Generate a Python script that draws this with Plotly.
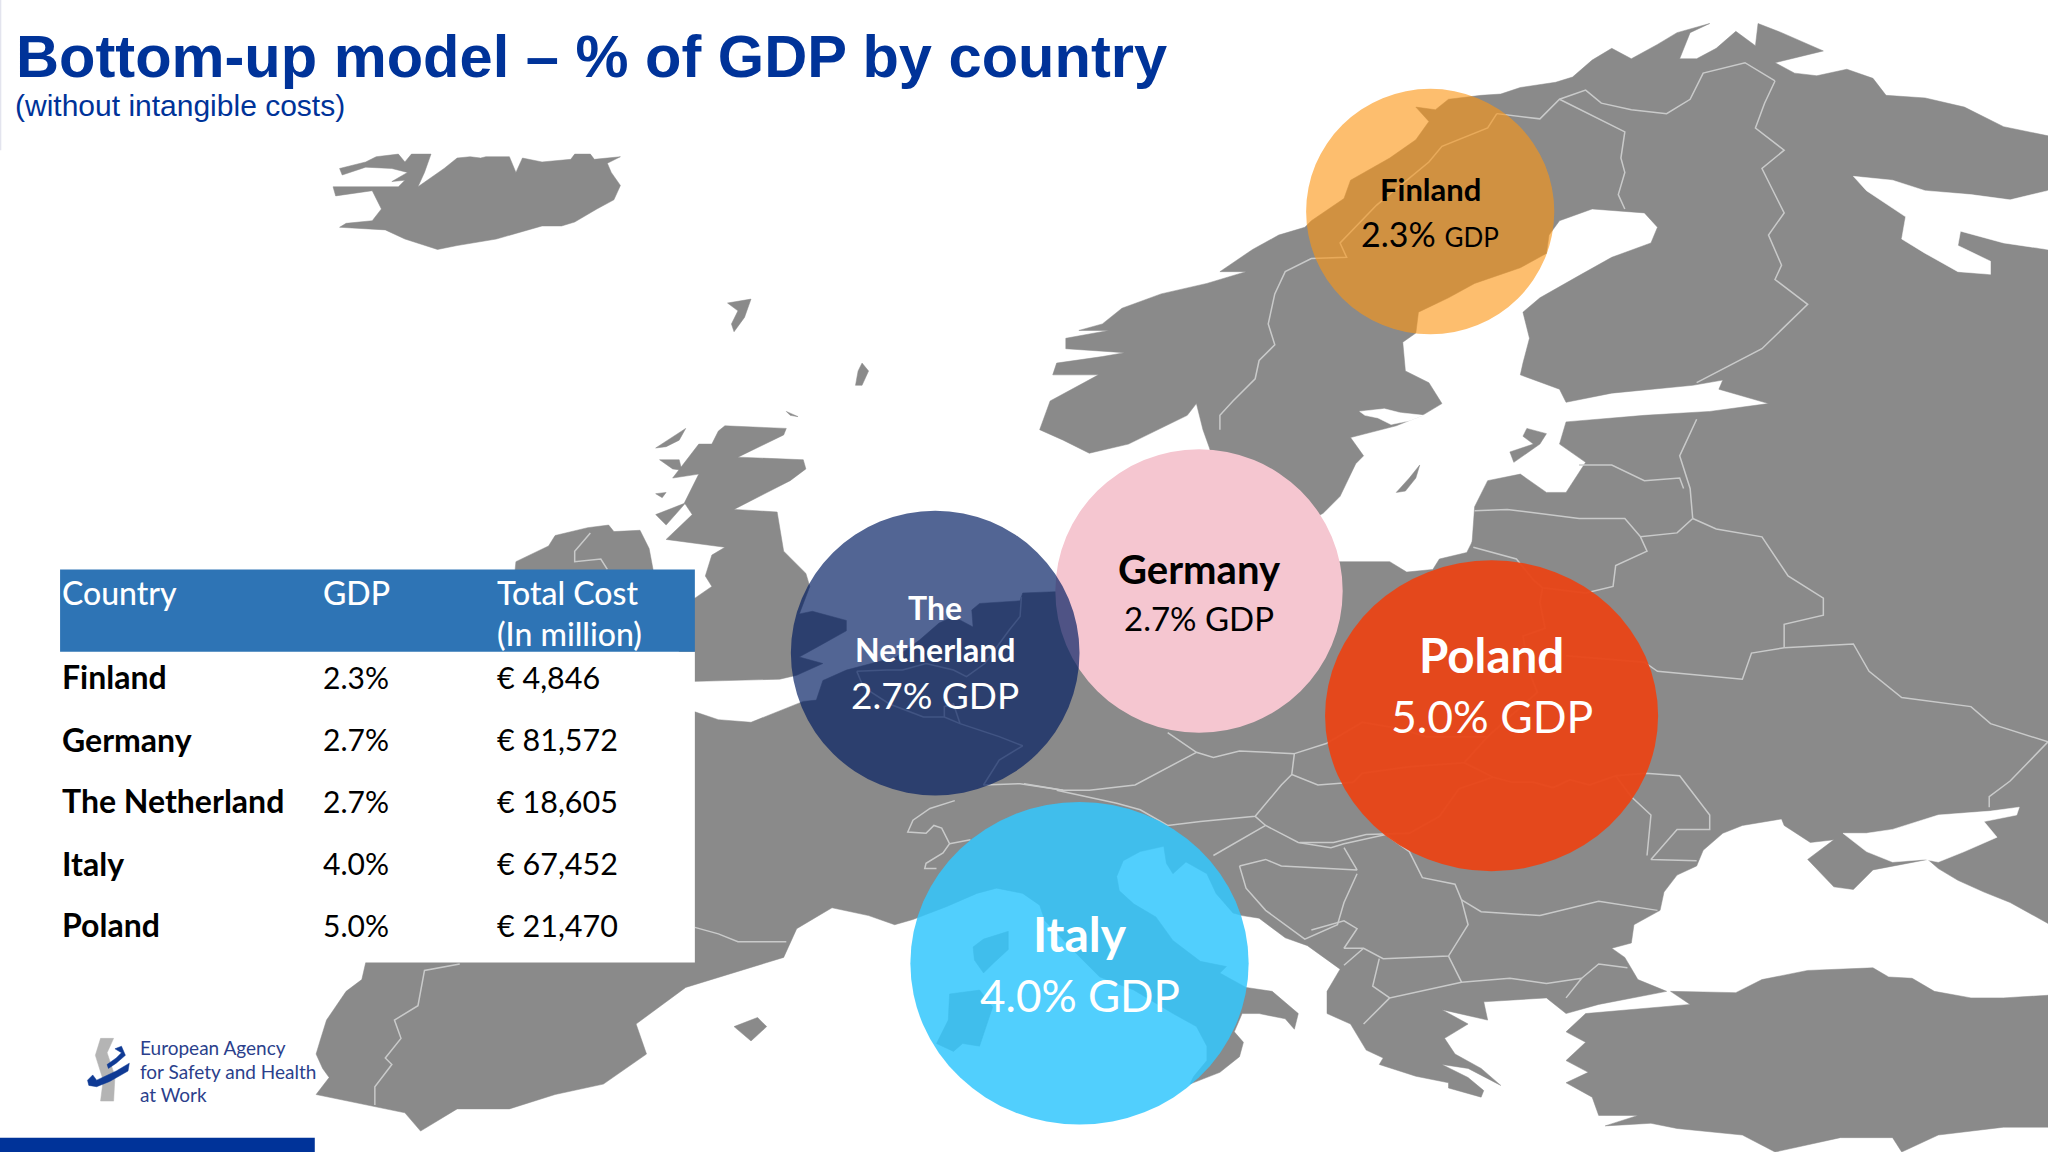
import plotly.graph_objects as go

# ---- chart values ----
countries = ["Finland", "Germany", "The Netherland", "Italy", "Poland"]
gdp_share = [2.3, 2.7, 2.7, 4.0, 5.0]
total_cost = ["€ 4,846", "€ 81,572", "€ 18,605", "€ 67,452", "€ 21,470"]
table_header = ["Country", "GDP", "Total Cost<br>(In million)"]
title_text = "Bottom-up model – % of GDP by country"
subtitle_text = "(without intangible costs)"
logo_lines = ["European Agency", "for Safety and Health", "at Work"]

# ---- map outlines (1568 x 882 image units) ----
iceland = [(260,129),(280,124),(288,120),(305,118),(310,124),(315,118),(330,118),(325,132),(320,143),(340,129),
           (350,121),(360,120),(368,121),(372,120),(390,120),(395,132),(400,121),(415,124),(437,122),(440,118),
           (452,118),(455,122),(475,120),(465,125),(468,132),(475,142),(470,153),(457,160),(440,170),(430,173),
           (415,173),(390,180),(380,183),(350,188),(335,191),(310,183),(295,176),(260,174),(265,171),(285,169),
           (292,160),(285,146),(257,150),(255,143),(305,143),(310,138),(300,139),(312,132),(300,129),(280,128),(262,134)]
britain = [(555,326),(602,328),(600,333),(565,350),(615,352),(617,359),(605,368),(582,380),(562,390),(595,392),
           (600,422),(617,439),(620,449),(612,470),(622,468),(648,475),(648,483),(630,493),(612,503),(630,508),
           (610,517),(597,520),(533,522),(520,522),(520,458),(532,458),(545,449),(540,441),(545,425),(555,419),
           (510,413),(530,394),(524,385),(535,363),(515,366),(535,340),(545,340),(550,330)]
ireland = [(395,430),(420,418),(425,410),(450,404),(466,402),(470,407),(490,406),(497,420),(500,436),(500,480),(390,480)]
mainland = [(280,737),(277,750),(265,759),(250,781),(245,797),(242,807),(247,818),(252,825),(242,838),(280,846),
            (310,852),(322,866),(350,849),(390,849),(425,838),(462,830),(495,807),(487,784),(525,756),(600,733),
            (610,711),(637,695),(665,701),(685,708),(699,704),(725,694),(748,684),(763,680),(783,684),(796,693),
            (800,705),(824,730),(842,748),(868,758),(898,776),(916,786),(924,801),(924,812),(914,824),(911,830),
            (934,821),(949,809),(952,798),(945,790),(951,776),(964,776),(984,780),(991,788),(994,776),(974,759),
            (954,756),(934,745),(939,740),(919,736),(898,720),(885,702),(868,692),(857,682),(855,671),(860,659),
            (873,652),(891,648),(893,661),(898,669),(908,660),(924,669),(931,684),(944,699),(951,701),(964,703),
            (984,718),(1001,724),(1026,742),(1016,759),(1016,776),(1034,784),(1046,804),(1059,810),(1056,815),
            (1084,824),(1109,829),(1109,833),(1134,840),(1136,835),(1124,825),(1104,815),(1124,818),(1149,831),
            (1134,818),(1114,807),(1106,795),(1124,784),(1104,773),(1139,781),(1136,767),(1184,764),(1199,776),
            (1224,769),(1259,762),(1276,759),(1254,750),(1244,733),(1234,726),(1249,722),(1251,708),(1271,697),
            (1274,683),(1284,670),(1299,663),(1304,651),(1319,638),(1334,632),(1364,627),(1366,632),(1386,645),
            (1404,643),(1384,658),(1404,679),(1419,681),(1434,666),(1476,658),(1484,665),(1499,674),(1519,683),
            (1539,691),(1568,707),(1568,104),(1534,97),(1504,82),(1474,75),(1444,73),(1434,60),(1414,53),(1391,58),
            (1374,56),(1359,48),(1396,39),(1364,25),(1346,18),(1344,35),(1329,24),(1314,37),(1299,45),(1286,45),
            (1294,25),(1309,18),(1284,25),(1269,34),(1249,45),(1234,37),(1219,46),(1204,59),(1191,63),(1164,67),
            (1149,72),(1134,73),(1109,76),(1099,84),(1084,82),(1094,93),(1084,107),(1064,121),(1034,138),(1029,152),
            (1004,169),(999,174),(979,180),(959,191),(934,208),(954,208),(924,217),(889,225),(859,236),(844,248),
            (826,253),(849,253),(816,259),(816,267),(861,270),(844,273),(809,278),(806,287),(841,287),(804,307),
            (796,329),(814,337),(834,347),(864,340),(909,318),(916,309),(921,329),(926,343),(940,395),(1000,400),
            (1013,393),(1026,380),(1038,355),(1044,349),(1034,335),(1069,326),(1089,318),(1104,309),(1094,293),
            (1076,284),(1074,262),(1084,255),(1086,239),(1109,228),(1129,217),(1164,205),(1184,194),(1186,180),
            (1194,169),(1219,160),(1259,163),(1269,174),(1264,186),(1234,197),(1209,211),(1179,228),(1166,239),
            (1171,259),(1166,278),(1164,287),(1194,298),(1199,308),(1234,301),(1296,295),(1319,291),(1316,298),
            (1354,309),(1309,315),(1259,318),(1199,323),(1194,340),(1214,354),(1199,377),(1184,377),(1164,363),
            (1139,368),(1129,388),(1127,416),(1128,413),(1123,423),(1102,428),(1097,436),(1077,438),(1064,430),
            (1028,430),(950,430),(900,440),(808,453),(783,454),(781,460),(750,462),(744,467),(745,480),(730,472),
            (719,477),(704,490),(686,503),(648,513),(630,521),(625,536),(615,537),(575,553),(550,551),(532,545),
            (500,545),(500,700),(280,720)]
turkey = [(1279,759),(1329,760),(1349,750),(1384,743),(1434,741),(1446,748),(1464,749),(1481,759),(1509,764),
          (1534,764),(1568,762),(1568,863),(1534,863),(1484,869),(1456,882),(1449,871),(1409,871),(1359,882),
          (1334,869),(1284,864),(1264,860),(1229,862),(1254,854),(1224,854),(1219,840),(1199,829),(1216,821),
          (1199,812),(1214,798),(1199,790),(1214,776),(1276,771),(1294,769)]
small_islands = [
    [(1087,356),(1079,366),(1069,377),(1076,376),(1084,366)],
    [(1169,328),(1184,332),(1179,340),(1159,354),(1156,346),(1174,340),(1166,334)],
    [(562,786),(580,779),(587,786),(575,797)],
    [(727,761),(750,758),(760,771),(750,801),(737,799),(730,805),(717,799),(726,781)],
    [(745,725),(753,719),(772,713),(772,727),(760,738),(753,745),(746,735)],
    [(502,343),(525,328),(520,337),(510,342)],
    [(505,352),(520,352),(522,360),(515,359)],
    [(502,394),(525,385),(510,402)],
    [(502,378),(510,377),(507,381)],
    [(602,315),(611,319),(605,318)],
    [(660,278),(665,284),(660,295),(655,295),(657,284)],
    [(557,232),(575,229),(570,243),(562,254),(560,248),(565,238)],
]
inland_seas = [
    [(1411,638),(1429,638),(1449,635),(1484,624),(1524,621),(1546,618),(1544,624),(1519,629),(1529,641),(1504,652),
     (1484,660),(1474,658),(1449,660),(1429,652)],
    [(1419,135),(1449,138),(1474,146),(1509,149),(1539,153),(1568,146),(1568,191),(1534,186),(1501,177),(1499,188),
     (1524,200),(1524,210),(1499,208),(1474,194),(1456,183),(1459,166),(1429,146)],
    [(1041,315),(1060,313),(1072,316),(1090,318),(1080,322),(1065,325),(1055,320),(1045,318)],
]
borders = [
    [(1146,87),(1139,98),(1104,112),(1094,124),(1054,157),(1026,186),(1031,197),(1004,198),(984,208),(976,225),
     (971,248),(976,264),(964,276),(961,290),(944,307),(934,318),(934,329)],
    [(1146,87),(1179,91),(1194,76),(1214,69),(1226,79),(1249,84),(1276,87),(1294,76),(1304,56),(1336,48),(1359,62)],
    [(1194,76),(1244,101),(1241,121),(1244,132),(1239,149),(1244,160)],
    [(1359,62),(1351,79),(1344,98),(1366,115),(1349,129),(1366,163),(1354,180),(1364,203),(1359,214),(1384,233),
     (1349,267),(1299,293)],
    [(1299,321),(1286,349),(1294,374),(1296,397)],
    [(1209,356),(1234,356),(1259,368),(1286,366),(1289,374)],
    [(1129,391),(1154,390),(1209,397),(1244,397),(1256,411),(1284,408),(1296,397)],
    [(1256,411),(1261,422),(1237,433),(1235,449),(1214,454)],
    [(1296,397),(1314,405),(1349,411),(1369,441),(1396,458),(1396,471),(1366,478),(1366,496)],
    [(1366,496),(1341,500),(1334,520),(1304,517),(1269,514),(1259,507),(1199,502)],
    [(1366,496),(1419,493),(1431,514),(1456,534),(1509,541),(1524,554),(1568,568)],
    [(1568,568),(1539,598),(1523,610),(1523,618)],
    [(1128,419),(1161,428),(1174,444),(1181,450),(1214,454)],
    [(1181,450),(1179,461),(1183,481),(1166,487),(1171,515),(1177,530),(1139,564),(1121,584)],
    [(1016,569),(1043,553),(1072,558),(1092,564),(1120,564),(1139,564)],
    [(1121,584),(1143,595),(1158,599),(1174,599),(1189,603),(1202,597),(1217,601),(1237,594),(1260,592),(1286,594),
     (1309,624),(1309,635),(1284,635),(1264,658),(1299,659)],
    [(1237,594),(1249,610),(1264,624),(1261,655)],
    [(1036,599),(1043,592),(1079,587),(1121,584)],
    [(1143,595),(1117,604),(1102,625),(1079,638),(1046,639),(1021,645),(995,645)],
    [(894,561),(916,576),(929,580),(949,575),(991,577),(989,593),(1009,601),(1036,599)],
    [(991,577),(1016,569)],
    [(916,576),(901,584),(869,601),(834,605),(814,605),(784,600)],
    [(989,593),(981,601),(961,625),(919,629),(894,632),(873,620),(855,615),(809,605)],
    [(961,625),(969,632),(994,645),(1019,649),(1029,646),(1061,639),(1079,652),(1089,672),(1114,677),(1119,689),
     (1124,708),(1109,732),(1059,734),(1044,726),(1029,726),(1039,711),(1029,705),(1004,712)],
    [(969,632),(929,655)],
    [(949,663),(969,658),(981,663),(1039,666),(1029,649)],
    [(949,663),(954,680),(969,697),(999,719),(1024,708),(1029,691),(1039,669)],
    [(1119,689),(1134,698),(1179,701),(1224,690),(1269,697)],
    [(1109,732),(1119,752),(1156,749),(1184,753),(1211,749),(1199,764)],
    [(1211,749),(1224,738),(1246,741)],
    [(1119,752),(1064,764),(1051,755),(1056,734)],
    [(1044,726),(1029,739)],
    [(1064,764),(1044,784)],
    [(352,738),(325,743),(320,770),(302,781),(307,795),(295,810),(300,815),(287,832),(287,846)],
    [(532,710),(550,715),(565,721),(602,721)],
    [(731,613),(712,619),(699,628),(695,637),(709,638),(715,632),(721,634),(727,646),(722,653),(709,661),(708,665),(717,665)],
    [(727,646),(743,643)],
    [(782,457),(781,472),(773,482),(754,508),(740,518),(730,513),(709,508),(691,513),(679,513),(656,514)],
    [(656,514),(661,526),(681,539),(707,549),(723,549),(735,554),(765,564),(783,571),(765,582),(753,601),(781,600),(814,605)],
    [(723,549),(723,541),(730,539),(735,554)],
    [(452,408),(440,422),(440,430),(460,428),(465,436)],
]
logo_ribbon = [(77,795),(87,795),(82,806),(88,824),(87,843),(77,843),(79,827),(73,808)]
logo_swoosh = [(67,827),(71,823),(74,827),(89,820),(99,814),(98,820),(84,828),(74,832),(68,831)]
logo_swoosh_top = [(82,815),(89,810),(93,806),(88,803),(93,801),(96,808),(89,814),(83,818)]

BLUE = "#003399"
LAND = "#8A8A8A"
W, H = 1568, 882  # picture units used by the axes


def polygon(points, color, line_color=None):
    return go.Scatter(
        x=[p[0] for p in points] + [points[0][0]],
        y=[p[1] for p in points] + [points[0][1]],
        mode="lines",
        fill="toself",
        fillcolor=color,
        line=dict(color=line_color or color, width=0.5),
        hoverinfo="skip",
        showlegend=False,
    )


fig = go.Figure()

for shape_pts in [iceland, britain, ireland, mainland, turkey] + small_islands:
    fig.add_trace(polygon(shape_pts, LAND))
for sea in inland_seas:
    fig.add_trace(polygon(sea, "#FFFFFF"))

# country borders as one broken line
bx, by = [], []
for b in borders:
    bx += [p[0] for p in b] + [None]
    by += [p[1] for p in b] + [None]
fig.add_trace(go.Scatter(x=bx, y=by, mode="lines", line=dict(color="#C9CACA", width=1.5),
                         hoverinfo="skip", showlegend=False))

for pts, col in [(logo_ribbon, "#B4B4B4"), (logo_swoosh, "#0F3A94"), (logo_swoosh_top, "#0F3A94")]:
    fig.add_trace(polygon(pts, col))

# bubbles: centre x, centre y, half width, half height, fill, text colour, name size, value size
bubbles = {
    "Germany": (918, 452.5, 110, 108.5, "#F5C6D0", "#000000", 40, 33),
    "The Netherland": (716, 500, 110.5, 109, "rgba(0,28,98,0.68)", "#FFFFFF", 32, 37),
    "Finland": (1095, 162, 95, 94, "rgba(251,150,21,0.62)", "#000000", 31, 34),
    "Poland": (1142, 548, 127.5, 119, "rgba(232,70,24,0.96)", "#FFFFFF", 47.5, 44.5),
    "Italy": (826.5, 737.5, 129.5, 123.5, "rgba(50,199,253,0.85)", "#FFFFFF", 48, 44),
}
for name, b in bubbles.items():
    fig.add_shape(type="circle", xref="x", yref="y", x0=b[0]-b[2], x1=b[0]+b[2], y0=b[1]-b[3], y1=b[1]+b[3],
                  fillcolor=b[4], line_width=0, layer="above")

# table background, above the map
fig.add_shape(type="rect", xref="x", yref="y", x0=46, x1=532, y0=499, y1=737,
              fillcolor="#FFFFFF", line_width=0, layer="above")
fig.add_shape(type="rect", xref="x", yref="y", x0=46, x1=532, y0=436, y1=499,
              fillcolor="#2E74B5", line_width=0, layer="above")
# page furniture
fig.add_shape(type="rect", xref="x", yref="y", x0=0, x1=241, y0=871, y1=882,
              fillcolor=BLUE, line_width=0, layer="above")
fig.add_shape(type="rect", xref="x", yref="y", x0=0, x1=1, y0=0, y1=115,
              fillcolor="#E3E4EE", line_width=0, layer="above")


def label(x, y, text, size, color, family="Lato", anchor="center", bold=False):
    fig.add_annotation(x=x, y=y, xref="x", yref="y", text=f"<b>{text}</b>" if bold else text,
                       showarrow=False, xanchor=anchor, yanchor="middle", align="left" if anchor == "left" else "center",
                       font=dict(family=family, size=size, color=color))


label(11, 43, title_text, 59.6, BLUE, family="Liberation Sans", anchor="left", bold=True)
label(10, 81, subtitle_text, 30, BLUE, family="Liberation Sans", anchor="left")

# table text
col_x = [46, 246, 379]
header_font = "Lato Medium, Lato"
label(col_x[0], 454, table_header[0], 32, "#FFFFFF", family=header_font, anchor="left")
label(col_x[1], 454, table_header[1], 32, "#FFFFFF", family=header_font, anchor="left")
for i, line in enumerate(table_header[2].split("<br>")):
    label(col_x[2], 454 + i * 31, line, 32, "#FFFFFF", family=header_font, anchor="left")
row_y = [518, 566, 613, 661, 708]
for c, g, t, y in zip(countries, gdp_share, total_cost, row_y):
    label(col_x[0], y, c, 32, "#000000", anchor="left", bold=True)
    label(col_x[1], y, f"{g:.1f}%", 30, "#000000", anchor="left")
    label(col_x[2], y, t, 30.5, "#000000", anchor="left")

# bubble text
for c, g in zip(countries, gdp_share):
    b = bubbles[c]
    value = f"{g:.1f}% GDP"
    if c == "The Netherland":
        label(b[0], 465, "The", b[6], b[5], bold=True)
        label(b[0], 497, "Netherland", b[6], b[5], bold=True)
        label(b[0], 532, value, b[7], b[5])
    elif c == "Finland":
        label(b[0], 145, c, b[6], b[5], bold=True)
        label(b[0], 179, f"{g:.1f}% <span style='font-size:26px'>GDP</span>", b[7], b[5])
    else:
        gap = {"Germany": (436, 473), "Poland": (501, 548), "Italy": (715, 762)}[c]
        label(b[0], gap[0], c, b[6], b[5], bold=True)
        label(b[0], gap[1], value, b[7], b[5])

for line, y in zip(logo_lines, [802, 820, 838]):
    label(106, y, line, 19, "#2B3F8C", anchor="left")

fig.update_xaxes(range=[0, W], visible=False, fixedrange=True)
fig.update_yaxes(range=[H, 0], visible=False, fixedrange=True)
fig.update_layout(width=2048, height=1152, margin=dict(l=0, r=0, t=0, b=0),
                  paper_bgcolor="#FFFFFF", plot_bgcolor="#FFFFFF", showlegend=False)

# the page's default body margin would push the chart off the window
fig.write_html("out.html", config={"displayModeBar": False},
               post_script="document.body.style.margin='0';document.body.style.overflow='hidden';")
